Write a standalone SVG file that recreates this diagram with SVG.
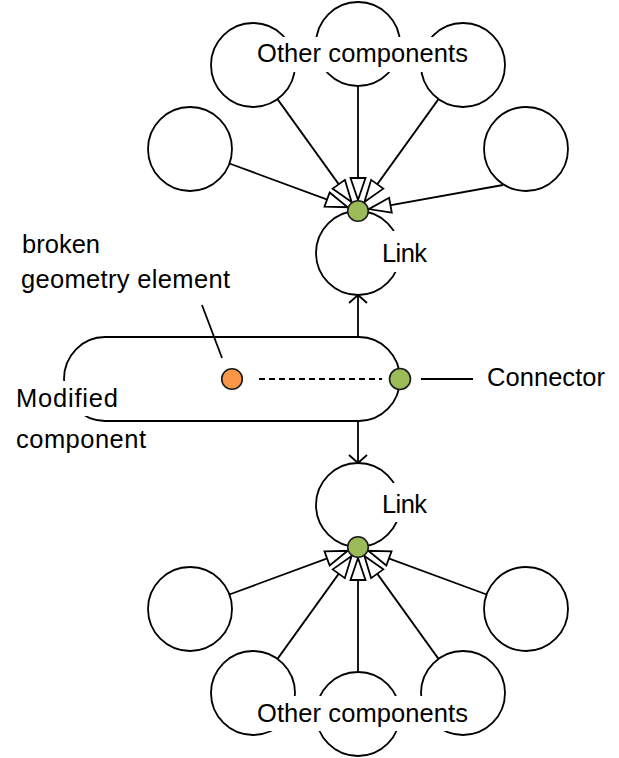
<svg xmlns="http://www.w3.org/2000/svg" width="619" height="758" viewBox="0 0 619 758">
<style>
.c{fill:#fff;stroke:#000;stroke-width:1.8}
.ln{fill:none;stroke:#000;stroke-width:1.8}
.t{font-family:"Liberation Sans",Arial,sans-serif;font-size:25.5px;fill:#000}
.bg{fill:#fff;stroke:none}
.dg{fill:#9BBB59;stroke:#1a1a1a;stroke-width:1.6}
.do{fill:#F79646;stroke:#1a1a1a;stroke-width:1.6}
</style>
<defs>
<marker id="tri" markerUnits="userSpaceOnUse" markerWidth="26" markerHeight="20" refX="23" refY="8.5" orient="auto" overflow="visible">
<path d="M1,1 L23,8.5 L1,16 Z" fill="#fff" stroke="#000" stroke-width="1.8" stroke-linejoin="miter"/>
</marker>
<marker id="vee" markerUnits="userSpaceOnUse" markerWidth="14" markerHeight="20" refX="10" refY="9" orient="auto" overflow="visible">
<path d="M2,0 L10,9 L2,18" fill="none" stroke="#000" stroke-width="1.8"/>
</marker>
</defs>

<g id="top-components">
<circle class="c" cx="358" cy="44" r="42"/>
<circle class="c" cx="253" cy="65" r="42"/>
<circle class="c" cx="463" cy="65" r="42"/>
<circle class="c" cx="190" cy="149" r="42"/>
<circle class="c" cx="526" cy="149" r="42"/>
</g>
<g id="bottom-components">
<circle class="c" cx="358" cy="714" r="42"/>
<circle class="c" cx="253" cy="693" r="42"/>
<circle class="c" cx="463" cy="693" r="42"/>
<circle class="c" cx="190" cy="609" r="42"/>
<circle class="c" cx="526" cy="609" r="42"/>
</g>
<g id="link-top">
<circle class="c" cx="358" cy="253" r="42"/>
</g>
<g id="link-bottom">
<circle class="c" cx="358" cy="505" r="42"/>
</g>
<g id="modified-component">
<rect class="c" x="64" y="337" width="336" height="84" rx="41" ry="42"/>
</g>

<g id="connectors">
<line class="ln" x1="277.5" y1="99.1" x2="351.6" y2="202.1" marker-end="url(#tri)"/>
<line class="ln" x1="229.4" y1="163.5" x2="347.7" y2="207.2" marker-end="url(#tri)"/>
<line class="ln" x1="438.5" y1="99.1" x2="364.4" y2="202.1" marker-end="url(#tri)"/>
<line class="ln" x1="503" y1="185" x2="368.8" y2="209.1" marker-end="url(#tri)"/>
<line class="ln" x1="358" y1="86" x2="358" y2="200" marker-end="url(#tri)"/>

<line class="ln" x1="229.4" y1="594.5" x2="347.7" y2="550.8" marker-end="url(#tri)"/>
<line class="ln" x1="486.6" y1="594.5" x2="368.3" y2="550.8" marker-end="url(#tri)"/>
<line class="ln" x1="277.5" y1="658.9" x2="351.6" y2="555.9" marker-end="url(#tri)"/>
<line class="ln" x1="438.5" y1="658.9" x2="364.4" y2="555.9" marker-end="url(#tri)"/>
<line class="ln" x1="358" y1="672" x2="358" y2="558" marker-end="url(#tri)"/>

<line class="ln" x1="358" y1="337" x2="358" y2="295" marker-end="url(#vee)"/>
<line class="ln" x1="358" y1="421" x2="358" y2="463" marker-end="url(#vee)"/>

<line class="ln" x1="259" y1="379" x2="382" y2="379" stroke-dasharray="6 4"/>
<line class="ln" x1="421" y1="379" x2="473" y2="379"/>
<line class="ln" x1="202" y1="305" x2="222" y2="358"/>
</g>

<g id="connector-dots">
<circle class="dg" cx="358" cy="211" r="10.3"/>
<circle class="dg" cx="358" cy="547" r="10.3"/>
<circle class="dg" cx="400" cy="379" r="10.5"/>
</g>
<g id="broken-element">
<circle class="do" cx="232" cy="379" r="10.3"/>
</g>

<g id="labels">
<rect class="bg" x="250" y="37" width="228" height="35"/>
<text class="t" x="257" y="62" textLength="211" lengthAdjust="spacing">Other components</text>
<rect class="bg" x="250" y="696" width="228" height="35"/>
<text class="t" x="257" y="722" textLength="211" lengthAdjust="spacing">Other components</text>
<rect class="bg" x="378" y="231" width="54" height="41"/>
<text class="t" x="382" y="262" textLength="45" lengthAdjust="spacing">Link</text>
<rect class="bg" x="378" y="483" width="54" height="39"/>
<text class="t" x="382" y="513" textLength="45" lengthAdjust="spacing">Link</text>
<text class="t" x="22" y="253" textLength="78" lengthAdjust="spacing">broken</text>
<text class="t" x="21" y="288" textLength="209" lengthAdjust="spacing">geometry element</text>
<rect class="bg" x="10" y="381" width="115" height="35"/>
<text class="t" x="16" y="407" textLength="102" lengthAdjust="spacing">Modified</text>
<text class="t" x="16" y="448" textLength="130" lengthAdjust="spacing">component</text>
<text class="t" x="487" y="386" textLength="118" lengthAdjust="spacing">Connector</text>
</g>
</svg>
